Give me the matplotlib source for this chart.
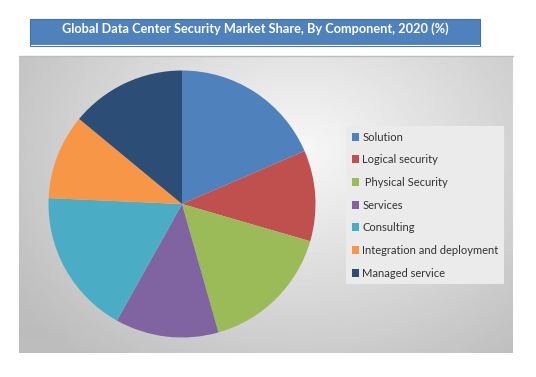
import numpy as np
from matplotlib import pyplot as plt
from matplotlib.patches import Rectangle, Patch
from matplotlib.lines import Line2D

plt.rcParams['font.family'] = ['Lato', 'DejaVu Sans']

title = 'Global Data Center Security Market Share, By Component, 2020 (%)'
components = ['Solution', 'Logical security', ' Physical Security', 'Services',
              'Consulting', 'Integration and deployment', 'Managed service']
shares = [18.5, 11.0, 16.1, 12.5, 17.6, 10.3, 14.0]
colors = ['#4F81BD', '#C0504D', '#9BBB59', '#8064A2', '#4BACC6', '#F79646', '#2C4D75']

W, H = 536, 377
fig = plt.figure(figsize=(W / 100, H / 100), dpi=100)
fig.patch.set_facecolor('white')


def fbox(x0, y0, x1, y1):
    # pixel box (top-left origin) -> figure fraction rect
    return [x0 / W, 1 - y1 / H, (x1 - x0) / W, (y1 - y0) / H]


# gray chart area with soft radial gradient
bg = fig.add_axes(fbox(19, 56, 513, 353))
yy, xx = np.mgrid[56:353, 19:513]
d = np.sqrt(((xx - 300) / 330.0) ** 2 + ((yy - 150) / 260.0) ** 2)
shade = np.clip(0.97 - 0.22 * d, 0.74, 0.97)
bg.imshow(shade, cmap='gray', vmin=0, vmax=1, aspect='auto', interpolation='bilinear')
bg.axis('off')
fig.add_artist(Line2D([19 / W, 513 / W], [1 - 56 / H, 1 - 56 / H], color='#bdbdbd', lw=1))

# title box
fig.add_artist(Rectangle((30 / W, 1 - 46 / H), 450 / W, 27 / H, transform=fig.transFigure,
                         facecolor='#4F81BD', edgecolor='#3F6FAE', lw=0.8))
fig.add_artist(Line2D([31 / W, 479 / W], [1 - 44.5 / H, 1 - 44.5 / H], color='white', lw=0.8))
fig.text(255 / W, 1 - 29 / H, title, color='white', fontsize=9.2, fontweight='bold',
         ha='center', va='center')

# pie
ax = fig.add_axes(fbox(48.5, 70.5, 315.5, 337.5))
ax.pie(shares, colors=colors, startangle=90, counterclock=False, radius=1,
       wedgeprops=dict(linewidth=0))
ax.set_xlim(-1, 1)
ax.set_ylim(-1, 1)
ax.set_aspect('equal')
ax.axis('off')

# legend
handles = [Patch(facecolor=c, edgecolor='none') for c in colors]
leg = fig.legend(handles, components, loc='upper left',
                 bbox_to_anchor=(346 / W, 1 - 126 / H), frameon=True, fancybox=False,
                 fontsize=8, labelspacing=1.05, handlelength=0.7, handleheight=0.7,
                 handletextpad=0.25, borderpad=0.5, borderaxespad=0)
leg.get_frame().set_facecolor('#ebebeb')
leg.get_frame().set_edgecolor('none')
leg.get_frame().set_alpha(1)
for t in leg.get_texts():
    t.set_color('#333333')

fig.savefig('out.png', dpi=100)
